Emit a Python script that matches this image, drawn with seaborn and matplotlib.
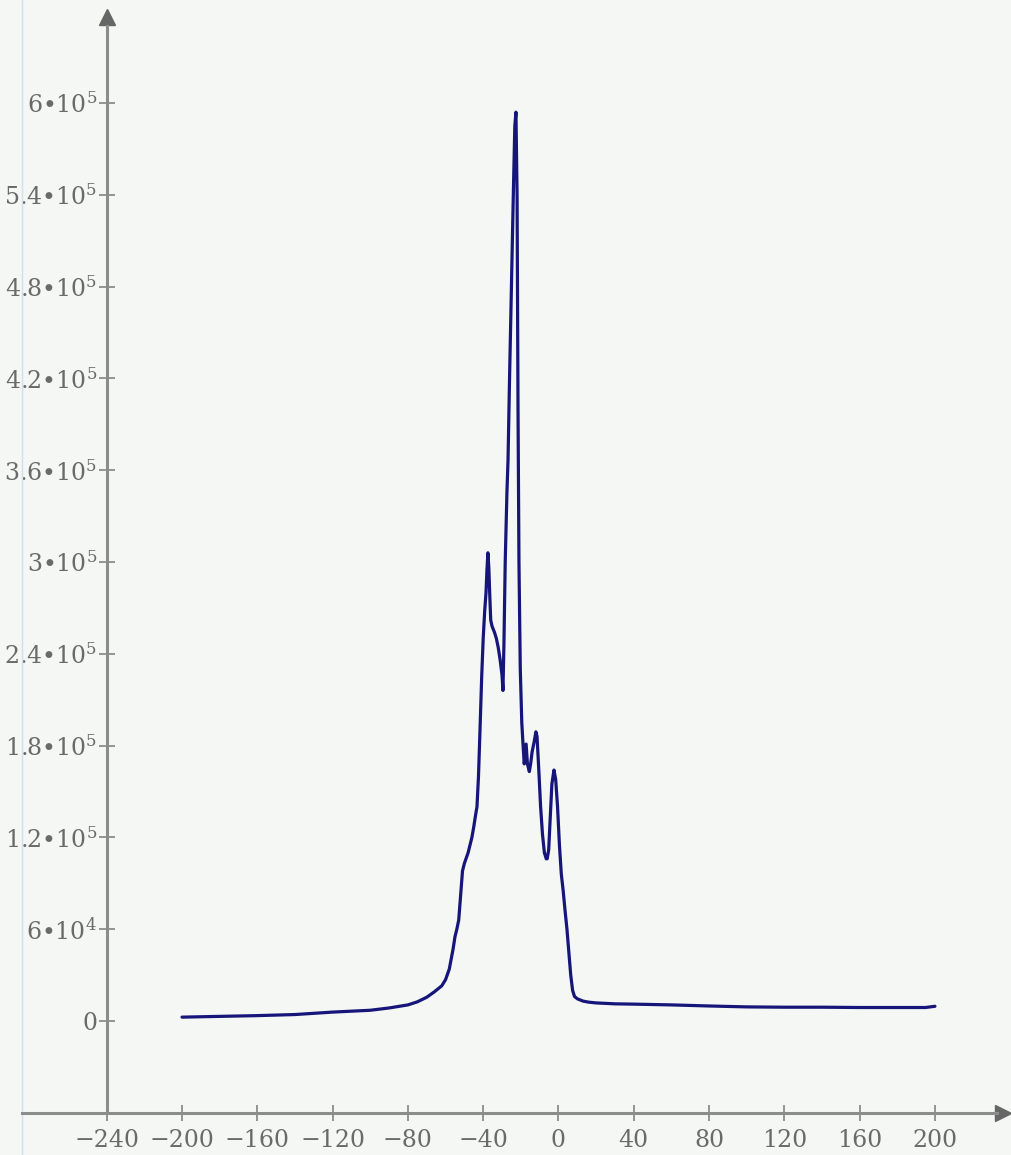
import numpy as np
import seaborn as sns
import matplotlib.pyplot as plt

# curve (x, intensity)
xs = [-200, -180, -160, -140, -120, -100, -90, -80, -75, -70, -66, -62, -60, -58,
      -56, -55, -54, -53, -52, -51, -50, -48, -46, -45, -44, -43.3, -42.5, -41.7,
      -40.8, -40, -39.2, -38.5, -38, -37.5, -37, -36.5, -36, -35.3, -34, -33, -32,
      -31, -30, -29.5, -29, -28.3, -27.4, -26.8, -26, -25, -24, -23.2, -22.6, -22,
      -21.5, -21, -20.3, -19.5, -18.9, -18.2, -17.2, -16.5, -15.5, -14.8, -14,
      -13, -12, -11.4, -10.5, -9.5, -8.5, -7.5, -6.5, -6, -5.2, -4.5, -3.5, -2.4,
      -1.5, -0.5, 0.5, 1.5, 2.5, 3.5, 4.5, 5.5, 6.5, 7.5, 8.5, 10, 13, 16, 20, 30,
      40, 60, 80, 100, 120, 140, 160, 180, 195, 200]
ys = [2.5, 3.0, 3.5, 4.2, 5.8, 7.0, 8.5, 10.5, 12.5, 15.5, 19, 23, 27, 34,
      47, 55, 60, 66, 82, 98, 103, 110, 120, 127, 135, 140, 160, 190,
      225, 250, 268, 280, 295, 306, 296, 278, 262, 258, 254, 250, 244,
      236, 226, 216, 245, 300, 345, 367, 420, 480, 540, 585, 594, 540,
      400, 300, 230, 195, 182, 168, 181, 168, 163, 168, 176,
      182, 189, 186, 165, 140, 122, 110, 106, 106, 112, 130, 155, 164,
      158, 140, 115, 96, 85, 72, 60, 45, 30, 20, 16, 14.5, 13, 12.3, 11.8, 11.2,
      11, 10.5, 9.8, 9.2, 9.0, 9.0, 8.8, 8.8, 8.8, 9.6]
ys = [v * 1000 for v in ys]

xticks = [-240, -200, -160, -120, -80, -40, 0, 40, 80, 120, 160, 200]
xtick_labels = ["\u2212240", "\u2212200", "\u2212160", "\u2212120", "\u221280", "\u221240",
                "0", "40", "80", "120", "160", "200"]
yticks = [0, 60000, 120000, 180000, 240000, 300000, 360000, 420000, 480000, 540000, 600000]
ytick_labels = ["0", "6\u202210$^{4}$", "1.2\u202210$^{5}$", "1.8\u202210$^{5}$",
                "2.4\u202210$^{5}$", "3\u202210$^{5}$", "3.6\u202210$^{5}$",
                "4.2\u202210$^{5}$", "4.8\u202210$^{5}$", "5.4\u202210$^{5}$",
                "6\u202210$^{5}$"]

sns.set_style("white")
plt.rcParams['font.family'] = ['DejaVu Serif']
plt.rcParams['mathtext.fontset'] = 'dejavuserif'

bg = '#f4f7f3'
axcol = '#8c8c8c'
txtcol = '#6a6a6a'

fig = plt.figure(figsize=(10.11, 11.55), dpi=100, facecolor=bg)
ax = fig.add_axes([0, 0, 1, 1])
ax.set_facecolor(bg)

sns.lineplot(x=xs, y=ys, ax=ax, color='#15157a', linewidth=2.3, sort=False)

ax.set_xlim(-296.7, 240.4)
ax.set_ylim(-87600, 667300)

for s in ['top', 'right']:
    ax.spines[s].set_visible(False)
ax.spines['left'].set_position(('data', -240))
ax.spines['bottom'].set_position(('data', -60000))
ax.spines['left'].set_bounds(-60000, 650000)
ax.spines['bottom'].set_bounds(-285, 233)
for s in ['left', 'bottom']:
    ax.spines[s].set_color(axcol)
    ax.spines[s].set_linewidth(2.2)

# arrow heads
ax.plot([-240], [656000], marker='^', ms=12, color='#666666', clip_on=False)
ax.plot([236], [-60000], marker='>', ms=12, color='#666666', clip_on=False)

# faint page line at the left edge
ax.axvline(-285, color='#cfe0f0', lw=1)

ax.set_xticks(xticks)
ax.set_xticklabels(xtick_labels)
ax.set_yticks(yticks)
ax.set_yticklabels(ytick_labels)
ax.tick_params(bottom=True, left=True, direction='inout', length=12, width=1.3,
               color=axcol, labelsize=17, labelcolor=txtcol, pad=1)
ax.tick_params(axis='x', pad=6)
ax.set_xlabel('')
ax.set_ylabel('')

fig.savefig('out.png', dpi=100, facecolor=bg)
